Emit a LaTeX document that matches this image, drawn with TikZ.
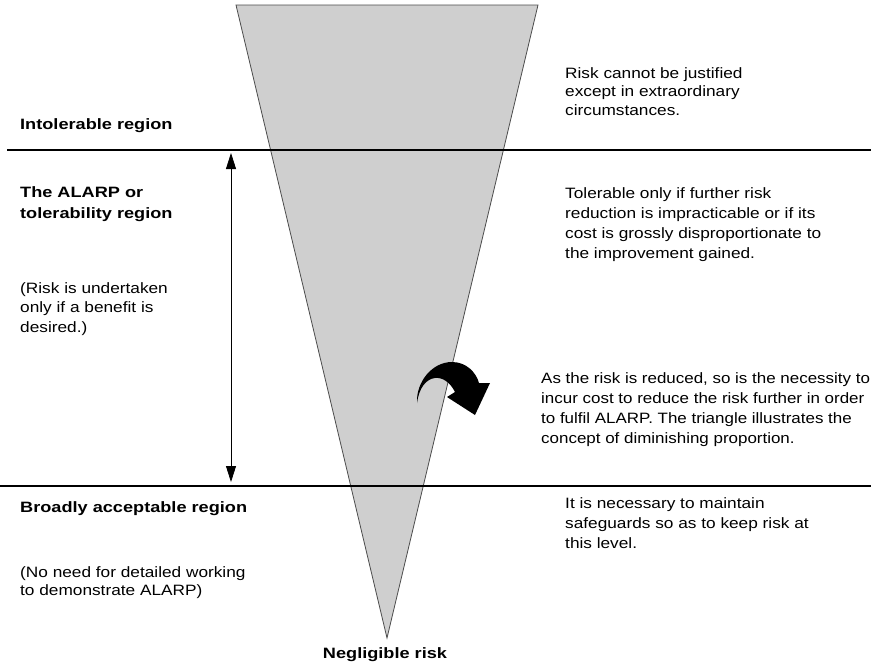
\documentclass[tikz,border=0pt]{standalone}
\usepackage{fontspec}
\setmainfont{Liberation Sans}[FakeStretch=1.15,BoldFeatures={FakeStretch=1.21}]
\usetikzlibrary{positioning,arrows.meta}

\begin{document}
\begin{tikzpicture}[x=1pt,y=-1pt,
  font=\fontsize{15}{20}\selectfont,
  band/.style={line width=2.8pt},
  head/.style={font=\fontsize{15}{21}\selectfont\bfseries,anchor=base west,inner sep=0pt,align=left},
  note/.style={anchor=base west,inner sep=0pt,align=left},
  span/.style={{Triangle[length=16pt,width=10pt]}-{Triangle[length=16pt,width=10pt]},line width=0.8pt}]
  \useasboundingbox (0,0) rectangle (871,665);
  % the funnel
  \coordinate (tl) at (236,5);
  \coordinate (tr) at (538,5);
  \coordinate (apex) at (387,638);
  \draw[fill=black!19,draw=black!70,line width=0.8pt] (tl) -- (tr) -- (apex) -- cycle;
  % region limits
  \coordinate (upL) at (7,150);  \coordinate (upR) at (871,150);
  \coordinate (loL) at (0,486);  \coordinate (loR) at (871,486);
  \draw[band] (upL) -- (upR);
  \draw[band] (loL) -- (loR);
  \coordinate (spanT) at (231,153);
  \coordinate (spanB) at (231,482);
  \draw[span] (spanT) -- (spanB);
  % turning arrow
  \fill (417,403) .. controls (416,382) and (432,362) .. (452,362)
    .. controls (466,362) and (476,372) .. (479,383) -- (490,383) -- (475,415)
    -- (447,397) -- (455,392) .. controls (450,382) and (442,377) .. (435,378)
    .. controls (426,379) and (419,388) .. (417,403) -- cycle;
  % left column (nodes sit on their last baseline)
  \node[head] (intol) at (20,129) {Intolerable region};
  \node[head] (alarp) at (20,218) {The ALARP or\\tolerability region};
  \node[note,font=\fontsize{15}{19.5}\selectfont] (benefit) at (20,332) {(Risk is undertaken\\only if a benefit is\\desired.)};
  \node[head] (broad) at (20,512) {Broadly acceptable region};
  \node[note,font=\fontsize{15}{18}\selectfont] (noneed) at (20,595) {(No need for detailed working\\to demonstrate ALARP)};
  \node[head,anchor=base] (neg) at (385,658) {Negligible risk};
  % right column
  \node[note,font=\fontsize{15}{18.5}\selectfont] (justify) at (565,115) {Risk cannot be justified\\except in extraordinary\\circumstances.};
  \node[note] (toler) at (565,258) {Tolerable only if further risk\\reduction is impracticable or if its\\cost is grossly disproportionate to\\the improvement gained.};
  \node[note,font=\fontsize{15}{20}\selectfont\addfontfeature{FakeStretch=1.13}] (reduce) at (541,443) {As the risk is reduced, so is the necessity to\\incur cost to reduce the risk further in order\\to fulfil ALARP. The triangle illustrates the\\concept of diminishing proportion.};
  \node[note] (keep) at (565,548) {It is necessary to maintain\\safeguards so as to keep risk at\\this level.};
\end{tikzpicture}
\end{document}
